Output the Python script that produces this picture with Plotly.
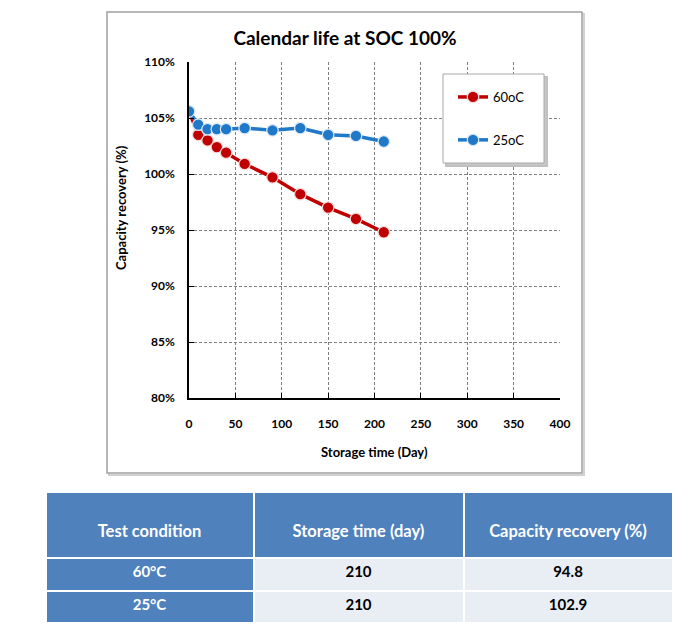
import plotly.graph_objects as go

# ---- data ----
days_60 = [0, 10, 20, 30, 40, 60, 90, 120, 150, 180, 210]
cap_60 = [105.6, 103.5, 103.0, 102.4, 101.9, 100.9, 99.7, 98.2, 97.0, 96.0, 94.8]
days_25 = [0, 10, 20, 30, 40, 60, 90, 120, 150, 180, 210]
cap_25 = [105.6, 104.4, 104.0, 104.0, 104.0, 104.1, 103.9, 104.1, 103.5, 103.4, 102.9]

x_ticks = [0, 50, 100, 150, 200, 250, 300, 350, 400]
y_ticks = [80, 85, 90, 95, 100, 105, 110]
y_tick_labels = ["80%", "85%", "90%", "95%", "100%", "105%", "110%"]

table_header = ["Test condition", "Storage time (day)", "Capacity recovery (%)"]
table_condition = ["60°C", "25°C"]
table_time = ["210", "210"]
table_recovery = ["94.8", "102.9"]

W, H = 700, 644
FONT = "Lato"
OFF = 8  # page body margin offset


def px(x):
    return (x - OFF) / W


def py(y):
    return 1 - (y - OFF) / H


fig = go.Figure()

fig.add_trace(go.Scatter(
    x=days_60, y=cap_60, name="60oC", mode="lines+markers",
    line=dict(color="#c00000", width=3.5),
    marker=dict(color="#c00000", size=11.5, line=dict(color="#f2dcdc", width=1.2)),
    legendgroup="a", xaxis="x", yaxis="y",
))
fig.add_trace(go.Scatter(
    x=days_25, y=cap_25, name="25oC", mode="lines+markers",
    line=dict(color="#1f78c8", width=3.5),
    marker=dict(color="#1f78c8", size=11.5, line=dict(color="#dce8f4", width=1.2)),
    legendgroup="b", xaxis="x", yaxis="y",
))

# table
fig.add_trace(go.Table(
    domain=dict(x=[px(45.5), px(673)], y=[0, py(492)]),
    columnwidth=[208, 210, 209],
    header=dict(
        values=["\u00a0<br>" + h for h in table_header],
        fill_color="#4f81bd",
        line=dict(color="white", width=2),
        font=dict(family=FONT, size=16.5, color="white", weight="bold"),
        height=66, align="center",
    ),
    cells=dict(
        values=[table_condition, table_time, table_recovery],
        fill_color=[["#4f81bd"] * 2, ["#e9edf4"] * 2, ["#e9edf4"] * 2],
        line=dict(color="white", width=2),
        font=dict(family=FONT, size=15, color=[["white"] * 2, ["black"] * 2, ["black"] * 2],
                  weight="bold"),
        height=32.5, align="center",
    ),
))

shapes = [
    # chart frame shadow + frame
    dict(type="rect", xref="paper", yref="paper",
         x0=px(109), x1=px(584), y0=py(475), y1=py(14),
         line=dict(color="#d0d0d0", width=2), fillcolor="rgba(0,0,0,0)", layer="below"),
    dict(type="rect", xref="paper", yref="paper",
         x0=px(107), x1=px(582), y0=py(473), y1=py(12),
         line=dict(color="#a0a0a0", width=1.5), fillcolor="white", layer="below"),
    # legend box shadow + box
    dict(type="rect", xref="paper", yref="paper",
         x0=px(446), x1=px(547), y0=py(166), y1=py(77),
         line=dict(color="#c0c0c0", width=2), fillcolor="#c8c8c8", layer="above"),
    dict(type="rect", xref="paper", yref="paper",
         x0=px(443), x1=px(544), y0=py(163), y1=py(74),
         line=dict(color="#a8a8a8", width=1), fillcolor="white", layer="above"),
]

annotations = [
    dict(text="Capacity recovery (%)", xref="paper", yref="paper",
         x=px(121), y=py(208), textangle=-90, showarrow=False,
         font=dict(family=FONT, size=13, color="black", weight="bold"),
         xanchor="center", yanchor="middle"),
    dict(text="Storage time (Day)", xref="paper", yref="paper",
         x=px(375), y=py(452), showarrow=False,
         font=dict(family=FONT, size=13, color="black", weight="bold"),
         xanchor="center", yanchor="middle"),
]

fig.update_layout(
    width=W, height=H,
    margin=dict(l=0, r=0, t=0, b=0, pad=0, autoexpand=False),
    paper_bgcolor="white",
    plot_bgcolor="#d9d9d9",
    title=dict(text="Calendar life at SOC 100%", x=px(345), y=py(38),
               xanchor="center", yanchor="middle",
               font=dict(family=FONT, size=19, color="black", weight="bold")),
    xaxis=dict(
        domain=[px(189), px(560)], range=[0, 400], tickvals=x_ticks,
        showgrid=True, gridcolor="#7f7f7f", griddash="3px,2px", gridwidth=1,
        showline=True, linecolor="black", linewidth=1.5,
        ticks="inside", ticklen=5, tickcolor="black",
        ticklabelstandoff=14, automargin=False,
        tickfont=dict(family=FONT, size=12, color="black", weight="bold"),
        zeroline=False, fixedrange=True,
    ),
    yaxis=dict(
        domain=[py(398), py(62)], range=[80, 110], tickvals=y_ticks, ticktext=y_tick_labels,
        showgrid=True, gridcolor="#7f7f7f", griddash="3px,2px", gridwidth=1,
        showline=True, linecolor="black", linewidth=1.5,
        ticks="inside", ticklen=5, tickcolor="black",
        ticklabelstandoff=10, automargin=False,
        tickfont=dict(family=FONT, size=12, color="black", weight="bold"),
        zeroline=False, fixedrange=True,
    ),
    legend=dict(
        x=px(453), y=py(82), xanchor="left", yanchor="top",
        bgcolor="rgba(0,0,0,0)", borderwidth=0,
        font=dict(family=FONT, size=13, color="black"),
        tracegroupgap=23, itemwidth=30,
    ),
    shapes=shapes,
    annotations=annotations,
    showlegend=True,
)

fig.write_html("out.html")
